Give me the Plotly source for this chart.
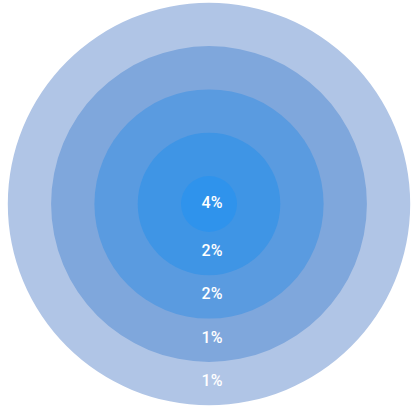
import plotly.graph_objects as go

# data (innermost ring first)
labels = ["4%", "2%", "2%", "1%", "1%"]
values = [4, 2, 2, 1, 1]
colors = ["#2f93ec", "#3f95e5", "#5a9be0", "#7fa7dc", "#b0c5e6"]

# layout constants (pixel-like units)
inner_r = 28
step = 43.3
radii = [inner_r + i * step for i in range(len(values))]

fig = go.Figure()
shapes = []
# draw from outermost to innermost
for i in reversed(range(len(values))):
    r = radii[i]
    shapes.append(dict(type="circle", xref="x", yref="y",
                       x0=-r, x1=r, y0=-r, y1=r,
                       fillcolor=colors[i], line=dict(width=0), layer="below"))

label_y = [0]
for i in range(1, len(values)):
    label_y.append(-((radii[i - 1] + radii[i]) / 2 - 1.5))

fig.add_trace(go.Scatter(
    x=[3] * len(labels), y=label_y, mode="text", text=labels,
    textfont=dict(color="white", size=16, family="Roboto", weight=500),
    hoverinfo="skip", showlegend=False))

fig.update_layout(
    shapes=shapes, width=418, height=418,
    margin=dict(l=0, r=0, t=0, b=0),
    paper_bgcolor="white", plot_bgcolor="white",
    xaxis=dict(range=[-209, 209], visible=False, fixedrange=True),
    yaxis=dict(range=[-214, 204], visible=False, fixedrange=True),
    showlegend=False,
)
fig.write_html("out.html", config={"displayModeBar": False},
               post_script="document.body.style.margin='0';")
